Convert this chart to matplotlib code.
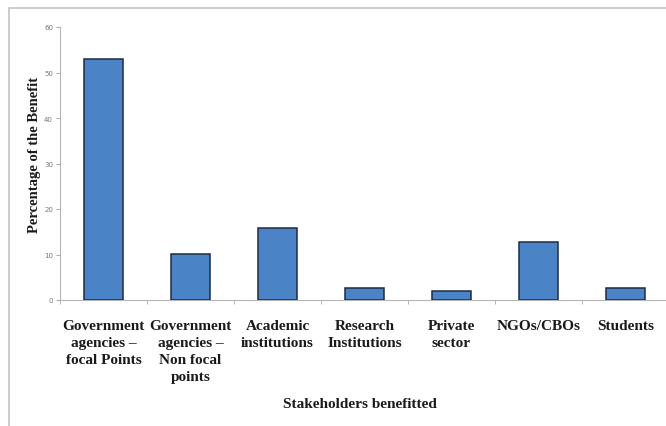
import matplotlib.pyplot as plt
import matplotlib.patches as mpatches
import numpy as np

# ------ DATOS ------
categories = [
    "Government\nagencies \u2013\nfocal Points",
    "Government\nagencies \u2013\nNon focal\npoints",
    "Academic\ninstitutions",
    "Research\nInstitutions",
    "Private\nsector",
    "NGOs/CBOs",
    "Students",
]
values = [52.9, 10.1, 15.8, 2.7, 2.0, 12.7, 2.7]
y_ticks = [0, 10, 20, 30, 40, 50, 60]

plt.rcParams['font.family'] = ['Liberation Serif', 'DejaVu Serif']

fig = plt.figure(figsize=(6.66, 4.27), dpi=100)

# marco exterior (solo se ven arriba y a la izquierda)
frame = mpatches.Rectangle((9 / 666, -0.1), 1.2, 1.1 - 8.5 / 427,
                           transform=fig.transFigure, fill=False,
                           edgecolor='#c4c4c4', linewidth=1.2)
fig.patches.append(frame)

ax = fig.add_axes([60 / 666, 126 / 427, 609 / 666, 273 / 427])

x = np.arange(len(categories))
ax.bar(x, values, width=0.44, color='#4A84C6', edgecolor='#1E2B45',
       linewidth=1.1, zorder=3)

ax.set_xlim(-0.5, len(categories) - 0.5)
ax.set_ylim(0, 60)
ax.set_yticks(y_ticks)
ax.set_yticklabels([str(t) for t in y_ticks], family='DejaVu Sans',
                   fontsize=5, color='#777777')
ax.tick_params(axis='y', length=3, width=0.6, color='#999999', pad=2)

# etiquetas de categorias como texto para controlar el interlineado
ax.set_xticks(x)
ax.set_xticklabels([])
ax.tick_params(axis='x', length=0)
ax.set_xticks(np.arange(len(categories) + 1) - 0.5, minor=True)
ax.tick_params(axis='x', which='minor', length=3, width=0.6, color='#aaaaaa')
for i, lab in enumerate(categories):
    ax.text(i, -4.2, lab, ha='center', va='top', fontsize=11,
            fontweight='bold', color='#1a1a1a', linespacing=1.4)

for s in ['top', 'right']:
    ax.spines[s].set_visible(False)
ax.spines['left'].set_color('#b5b5b5')
ax.spines['bottom'].set_color('#b5b5b5')
ax.spines['left'].set_linewidth(0.8)
ax.spines['bottom'].set_linewidth(0.8)

ax.set_ylabel("Percentage of the Benefit", fontsize=10.5, fontweight='bold',
              color='#1a1a1a')
ax.yaxis.set_label_coords(-0.031, 0.535)
fig.text(360 / 666, 1 - 405 / 427, "Stakeholders benefitted", ha='center',
         va='center', fontsize=11, fontweight='bold', color='#1a1a1a')

fig.savefig("out.png", dpi=100)
